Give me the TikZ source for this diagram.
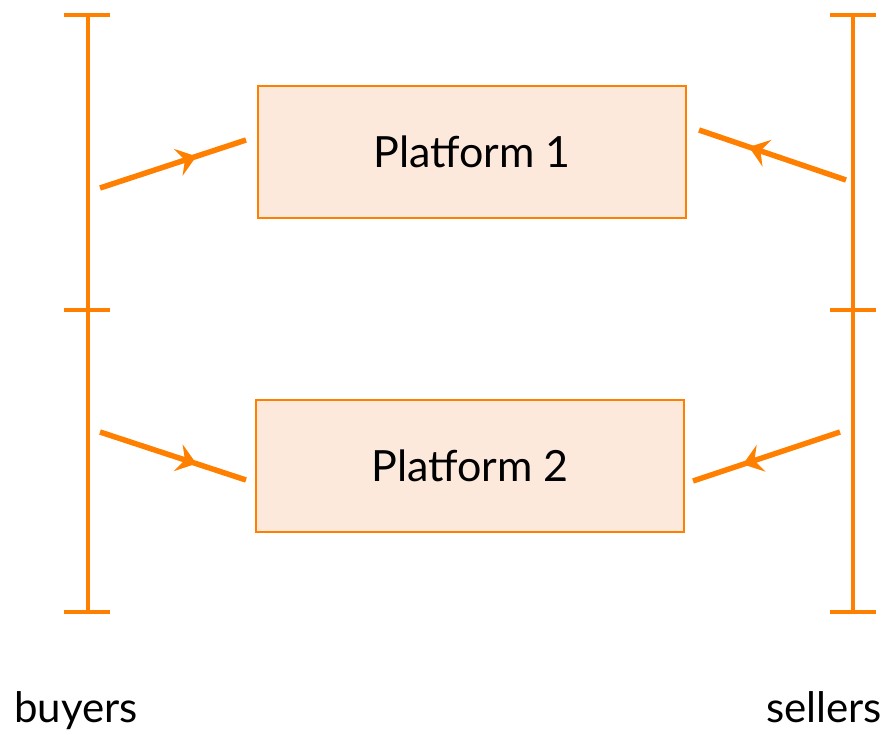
\documentclass[tikz,border=0pt]{standalone}
\usepackage{fontspec}
\setmainfont{Lato}
\usetikzlibrary{arrows.meta,decorations.markings}
\definecolor{brand}{HTML}{FF8000}
\definecolor{boxfill}{HTML}{FDE9DC}
\tikzset{
  bar/.style={draw=brand, line width=4pt},
  platbox/.style={draw=brand, fill=boxfill, line width=2pt, minimum width=428pt,
    minimum height=132pt, inner sep=0pt, font=\fontsize{43}{50}\selectfont},
  flow/.style={draw=brand, line width=5.5pt,
    postaction={decorate},
    decoration={markings, mark=at position 0.66 with {\arrow{Stealth[length=19pt,width=28pt,inset=7pt]}}}},
  sidelabel/.style={font=\fontsize{42}{48}\selectfont, inner sep=0pt, anchor=base}
}
\begin{document}
\begin{tikzpicture}[x=1pt,y=-1pt]
\useasboundingbox (0,0) rectangle (889,734);
% market sides
\draw[bar] (88,15) -- (88,612);
\draw[bar] (853,15) -- (853,612);
\foreach \yy in {15,310,612}{
  \draw[bar] (64,\yy) -- (110,\yy);
  \draw[bar] (830,\yy) -- (876,\yy);
}
% platforms
\node[platbox] (p1) at (472,152) {Platform 1};
\node[platbox] (p2) at (470,466) {Platform 2};
% flow end points
\coordinate (b1) at (100,188);
\coordinate (b1e) at (246,140);
\coordinate (s1) at (846,180);
\coordinate (s1e) at (699,130);
\coordinate (b2) at (100,432);
\coordinate (b2e) at (246,480);
\coordinate (s2) at (840,432);
\coordinate (s2e) at (693,481);
\draw[flow] (b1) -- (b1e);
\draw[flow] (s1) -- (s1e);
\draw[flow] (b2) -- (b2e);
\draw[flow] (s2) -- (s2e);
% side labels
\node[sidelabel] (buy) at (76,722) {buyers};
\node[sidelabel] (sell) at (824,722) {sellers};
\end{tikzpicture}
\end{document}
